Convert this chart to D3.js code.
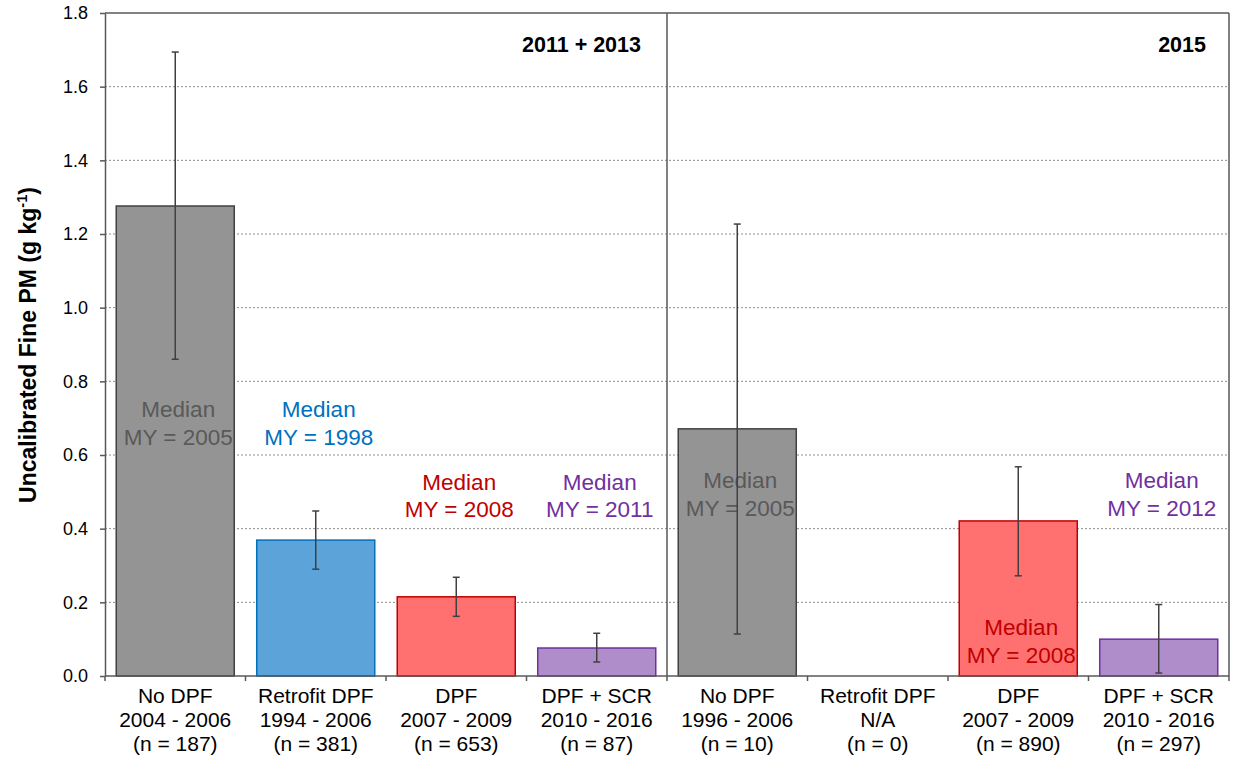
<!DOCTYPE html>
<html>
<head>
<meta charset="utf-8">
<script src="https://cdn.jsdelivr.net/npm/d3@7"></script>
<style>
  html, body { margin: 0; padding: 0; background: #fff; }
  svg { display: block; font-family: "Liberation Sans", Arial, sans-serif; }
</style>
</head>
<body>
<svg id="chart" width="1238" height="765"></svg>
<script>
// ---------------- DATA ----------------
const panels = ["2011 + 2013", "2015"];
const categories = ["No DPF", "Retrofit DPF", "DPF", "DPF + SCR"];
const yearRanges2011 = ["2004 - 2006", "1994 - 2006", "2007 - 2009", "2010 - 2016"];
const yearRanges2015 = ["1996 - 2006", "N/A", "2007 - 2009", "2010 - 2016"];
const counts2011 = [187, 381, 653, 87];
const counts2015 = [10, 0, 890, 297];
const values2011 = [1.276, 0.369, 0.215, 0.076];
const values2015 = [0.671, null, 0.421, 0.100];
const errLow2011 = [0.860, 0.290, 0.162, 0.038];
const errHigh2011 = [1.694, 0.448, 0.268, 0.116];
const errLow2015 = [0.114, null, 0.272, 0.008];
const errHigh2015 = [1.227, null, 0.568, 0.194];
const medianMY2011 = [2005, 1998, 2008, 2011];
const medianMY2015 = [2005, null, 2008, 2012];
const yTicks = [0, 0.2, 0.4, 0.6, 0.8, 1.0, 1.2, 1.4, 1.6, 1.8];

// ---------------- STYLE / LAYOUT ----------------
const fills = ["#949494", "#5BA3D9", "#FF7070", "#AF8DCB"];
const strokes = ["#404040", "#0070C0", "#C00000", "#7030A0"];
const textColors = ["#595959", "#0070C0", "#C00000", "#7030A0"];
// first-line baseline of each "Median" annotation, in data units
const annotationY = {
  "2011 + 2013": [0.702, 0.702, 0.505, 0.505],
  "2015": [0.510, null, 0.111, 0.510]
};

const svg = d3.select("#chart");
const plotLeft = 105, plotRight = 1229, plotTop = 13, plotBottom = 676;
const axisColor = "#595959";

// build table
const rows = [];
panels.forEach((p, pi) => {
  categories.forEach((c, ci) => {
    const is11 = pi === 0;
    rows.push({
      key: p + "|" + c,
      panel: p, ci,
      cat: c,
      years: (is11 ? yearRanges2011 : yearRanges2015)[ci],
      n: (is11 ? counts2011 : counts2015)[ci],
      value: (is11 ? values2011 : values2015)[ci],
      lo: (is11 ? errLow2011 : errLow2015)[ci],
      hi: (is11 ? errHigh2011 : errHigh2015)[ci],
      my: (is11 ? medianMY2011 : medianMY2015)[ci],
      ay: annotationY[p][ci]
    });
  });
});

const x = d3.scaleBand()
  .domain(rows.map(d => d.key))
  .range([plotLeft, plotRight])
  .paddingInner(0.16)
  .paddingOuter(0.08);
const y = d3.scaleLinear().domain([0, 1.8]).range([plotBottom, plotTop]);

// gridlines
svg.append("g")
  .selectAll("line")
  .data(yTicks.filter(t => t > 0 && t < 1.8))
  .join("line")
  .attr("x1", plotLeft).attr("x2", plotRight)
  .attr("y1", d => y(d)).attr("y2", d => y(d))
  .attr("stroke", "#8c8c8c")
  .attr("stroke-width", 1)
  .attr("stroke-dasharray", "2,2");

// bars
const barData = rows.filter(d => d.value != null);
svg.append("g")
  .selectAll("rect")
  .data(barData)
  .join("rect")
  .attr("x", d => x(d.key))
  .attr("width", x.bandwidth())
  .attr("y", d => y(d.value))
  .attr("height", d => y(0) - y(d.value))
  .attr("fill", d => fills[d.ci])
  .attr("stroke", d => strokes[d.ci])
  .attr("stroke-width", 1.5);

// annotations
const ann = svg.append("g");
rows.filter(d => d.my != null).forEach(d => {
  const cx = x(d.key) + x.bandwidth() / 2 + 3;
  const t = ann.append("text")
    .attr("text-anchor", "middle")
    .attr("font-size", 22.5)
    .attr("fill", textColors[d.ci]);
  t.append("tspan").attr("x", cx).attr("y", y(d.ay)).text("Median");
  t.append("tspan").attr("x", cx).attr("dy", 27.5).text("MY = " + d.my);
});

// error bars
const eb = svg.append("g").attr("stroke", "#404040").attr("stroke-width", 1.5);
rows.filter(d => d.lo != null).forEach(d => {
  const cx = x(d.key) + x.bandwidth() / 2;
  eb.append("line").attr("x1", cx).attr("x2", cx).attr("y1", y(d.lo)).attr("y2", y(d.hi));
  eb.append("line").attr("x1", cx - 3.5).attr("x2", cx + 3.5).attr("y1", y(d.lo)).attr("y2", y(d.lo));
  eb.append("line").attr("x1", cx - 3.5).attr("x2", cx + 3.5).attr("y1", y(d.hi)).attr("y2", y(d.hi));
});

// y axis
const yAxis = svg.append("g")
  .attr("transform", `translate(${plotLeft},0)`)
  .call(d3.axisLeft(y).tickValues(yTicks).tickFormat(d3.format(".1f")).tickSize(5).tickPadding(12).tickSizeOuter(0));
yAxis.select(".domain").attr("stroke", axisColor).attr("stroke-width", 1.5);
yAxis.selectAll(".tick line").attr("stroke", axisColor).attr("stroke-width", 1.5);
yAxis.selectAll(".tick text").attr("font-size", 18).attr("fill", "#000").attr("font-family", "Liberation Sans, Arial, sans-serif");

// x axis line + boundary ticks
const xg = svg.append("g");
xg.append("line").attr("x1", plotLeft).attr("x2", plotRight).attr("y1", plotBottom).attr("y2", plotBottom)
  .attr("stroke", axisColor).attr("stroke-width", 1.5);
const step = x.step();
const boundaries = d3.range(rows.length + 1).map(i => plotLeft + i * step);
xg.selectAll("line.b").data(boundaries).join("line").attr("class", "b")
  .attr("x1", d => d).attr("x2", d => d).attr("y1", plotBottom).attr("y2", plotBottom + 5)
  .attr("stroke", axisColor).attr("stroke-width", 1.5);

// x labels
rows.forEach(d => {
  const cx = x(d.key) + x.bandwidth() / 2;
  const t = xg.append("text").attr("text-anchor", "middle").attr("font-size", 21).attr("fill", "#000");
  t.append("tspan").attr("x", cx).attr("y", 703).text(d.cat);
  t.append("tspan").attr("x", cx).attr("dy", 24).text(d.years);
  t.append("tspan").attr("x", cx).attr("dy", 24).text("(n = " + d.n + ")");
});

// frame: top border, right border, panel divider
const divX = plotLeft + 4 * step;
svg.append("line").attr("x1", plotLeft).attr("x2", plotRight).attr("y1", plotTop).attr("y2", plotTop)
  .attr("stroke", axisColor).attr("stroke-width", 1.5);
svg.append("line").attr("x1", plotRight).attr("x2", plotRight).attr("y1", plotTop).attr("y2", plotBottom)
  .attr("stroke", axisColor).attr("stroke-width", 1.5);
svg.append("line").attr("x1", divX).attr("x2", divX).attr("y1", plotTop).attr("y2", plotBottom)
  .attr("stroke", axisColor).attr("stroke-width", 1.5);

// panel titles
svg.append("text").attr("x", divX - 26).attr("y", 52).attr("text-anchor", "end")
  .attr("font-size", 21.5).attr("font-weight", "bold").text(panels[0]);
svg.append("text").attr("x", plotRight - 23).attr("y", 52).attr("text-anchor", "end")
  .attr("font-size", 21.5).attr("font-weight", "bold").text(panels[1]);

// y axis title
const yt = svg.append("text")
  .attr("transform", "translate(36,345) rotate(-90)")
  .attr("text-anchor", "middle")
  .attr("font-size", 23)
  .attr("font-weight", "bold");
yt.append("tspan").text("Uncalibrated Fine PM (g kg");
yt.append("tspan").attr("font-size", 14.5).attr("dy", -9).text("-1");
yt.append("tspan").attr("dy", 9).text(")");
</script>
</body>
</html>
